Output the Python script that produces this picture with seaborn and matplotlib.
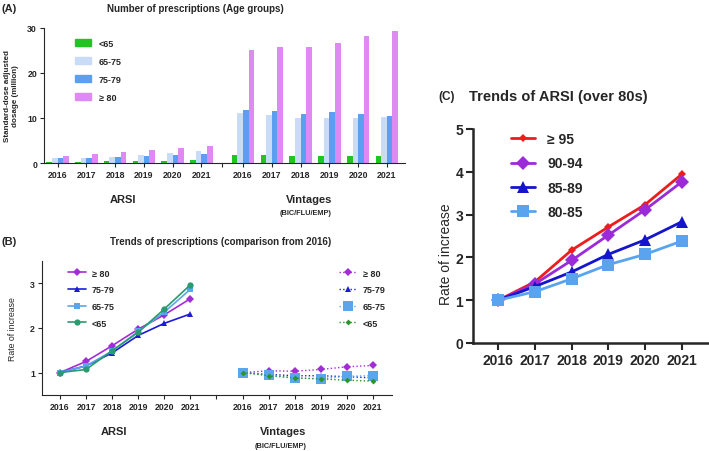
import numpy as np
import pandas as pd
import matplotlib
matplotlib.use('Agg')
import matplotlib.pyplot as plt
from matplotlib.patches import Patch
import seaborn as sns

# %% data

years = [2016, 2017, 2018, 2019, 2020, 2021]
year_labels = [str(y) for y in years]
age_groups = ['<65', '65-75', '75-79', '\u2265 80']

# (A) standard-dose adjusted dosage, million
arsi_lt65 = [0.30, 0.30, 0.37, 0.44, 0.52, 0.60]
arsi_65_75 = [1.04, 1.19, 1.40, 1.85, 2.20, 2.67]
arsi_75_79 = [1.04, 1.04, 1.26, 1.63, 1.85, 2.07]
arsi_ge80 = [1.56, 1.93, 2.37, 2.89, 3.26, 3.85]
vint_lt65 = [1.85, 1.70, 1.55, 1.55, 1.55, 1.50]
vint_65_75 = [11.1, 10.6, 10.1, 9.9, 10.1, 10.3]
vint_75_79 = [11.7, 11.5, 11.0, 11.3, 11.0, 10.4]
vint_ge80 = [25.2, 25.8, 25.8, 26.7, 28.2, 29.3]

# (B) rate of increase vs 2016
rate_arsi_ge80 = [1.0, 1.25, 1.60, 1.97, 2.29, 2.65]
rate_arsi_75_79 = [1.0, 1.15, 1.44, 1.83, 2.10, 2.31]
rate_arsi_65_75 = [1.0, 1.15, 1.48, 1.92, 2.35, 2.86]
rate_arsi_lt65 = [1.0, 1.07, 1.49, 1.90, 2.42, 2.96]
rate_vint_ge80 = [1.0, 1.04, 1.03, 1.07, 1.13, 1.16]
rate_vint_75_79 = [1.0, 0.96, 0.93, 0.93, 0.91, 0.88]
rate_vint_65_75 = [1.0, 0.95, 0.88, 0.86, 0.92, 0.93]
rate_vint_lt65 = [1.0, 0.93, 0.88, 0.86, 0.83, 0.81]

# (C) ARSI over 80s
over80_groups = ['\u2265 95', '90-94', '85-89', '80-85']
c_ge95 = [1.0, 1.43, 2.17, 2.71, 3.23, 3.94]
c_90_94 = [1.0, 1.38, 1.93, 2.52, 3.11, 3.76]
c_85_89 = [1.0, 1.32, 1.66, 2.07, 2.41, 2.83]
c_80_85 = [1.0, 1.20, 1.50, 1.83, 2.07, 2.38]

# %% style

sns.set_style('ticks')
plt.rcParams['font.family'] = ['Liberation Sans', 'DejaVu Sans']
plt.rcParams['axes.linewidth'] = 0.8

W, H = 709, 452
fig = plt.figure(figsize=(W / 100, H / 100), dpi=100)


def box(left, top, right, bottom):
    return [left / W, 1 - bottom / H, (right - left) / W, (bottom - top) / H]


def fx(x):
    return x / W


def fy(y):
    return 1 - y / H


def small_ticks(ax, size=6.3):
    ax.tick_params(axis='both', direction='out', length=3, width=0.8, pad=2, labelsize=size)
    for lab in ax.get_xticklabels() + ax.get_yticklabels():
        lab.set_fontweight('bold')


# %% (A) bars

axA = fig.add_axes(box(44, 29, 405, 164))
pos_arsi = np.arange(6)
pos_vint = np.arange(6) + 6.45
pos_a = np.r_[pos_arsi, pos_vint]
bar_colors = ['#22c422', '#c8dcf7', '#5b9ff2', '#df8af2']

df_a = pd.DataFrame({
    'pos': np.tile(pos_a, 4),
    'group': np.repeat(age_groups, 12),
    'value': np.concatenate([arsi_lt65 + vint_lt65, arsi_65_75 + vint_65_75,
                             arsi_75_79 + vint_75_79, arsi_ge80 + vint_ge80]),
})
sns.barplot(data=df_a, x='pos', y='value', hue='group', hue_order=age_groups,
            palette=bar_colors, native_scale=True, width=0.78, saturation=1,
            errorbar=None, linewidth=0, legend=False, ax=axA)
axA.set_xlim(-0.47, 12.08)
axA.set_ylim(0, 30)
axA.set_yticks([0, 10, 20, 30])
axA.set_xticks(list(pos_a) + [5.72])
axA.set_xticklabels(year_labels + year_labels + [''])
axA.set_xlabel('')
axA.set_ylabel('Standard-dose adjusted\ndosage (million)', fontsize=5.8,
               fontweight='bold', linespacing=1.35)
axA.yaxis.set_label_coords(-0.068, 0.5)
sns.despine(ax=axA)
small_ticks(axA)
axA.legend(handles=[Patch(color=c, label=g) for c, g in zip(bar_colors, age_groups)],
           loc='upper left', bbox_to_anchor=(fx(70), fy(35)), bbox_transform=fig.transFigure,
           frameon=False, borderpad=0, handlelength=1.8, handleheight=0.95,
           handletextpad=0.9, labelspacing=1.0, prop={'size': 6.5, 'weight': 'bold'})

fig.text(fx(2), fy(9), '(A)', fontsize=8, fontweight='bold', va='center')
fig.text(fx(195), fy(9), 'Number of prescriptions (Age groups)', fontsize=7,
         fontweight='bold', ha='center', va='center')
fig.text(fx(123), fy(200), 'ARSI', fontsize=8, fontweight='bold', ha='center', va='center')
fig.text(fx(309), fy(200), 'Vintages', fontsize=8, fontweight='bold', ha='center', va='center')
fig.text(fx(306), fy(214), '(BIC/FLU/EMP)', fontsize=5.3, fontweight='bold', ha='center', va='center')

# %% (B) trends

axB = fig.add_axes(box(42, 261.6, 392, 396))
pos_b_arsi = np.arange(6)
pos_b_vint = np.arange(6) + 7

arsi_series = [
    (rate_arsi_ge80, '#a32cd6', 'D', 4.0),
    (rate_arsi_75_79, '#1c1cd6', '^', 4.8),
    (rate_arsi_65_75, '#5aa6ee', 's', 4.5),
    (rate_arsi_lt65, '#2a9b6f', 'o', 4.5),
]
vint_series = [
    (rate_vint_ge80, '#a32cd6', 'D', 4.5),
    (rate_vint_75_79, '#1c1cd6', '^', 5.0),
    (rate_vint_65_75, '#5aa6ee', 's', 6.5),
    (rate_vint_lt65, '#2a962a', 'D', 3.0),
]
labels_b = ['\u2265 80', '75-79', '65-75', '<65']

for (vals, col, mk, ms), lab in zip(arsi_series, labels_b):
    sns.lineplot(x=pos_b_arsi, y=vals, color=col, marker=mk, markersize=ms,
                 mec=col, mew=0, linewidth=1.2, ax=axB, label=lab)
for (vals, col, mk, ms), lab in zip(vint_series, labels_b):
    sns.lineplot(x=pos_b_vint, y=vals, color=col, marker=mk, markersize=ms,
                 mec=col, mew=0, linewidth=1.0, linestyle=':', ax=axB, label=lab)

axB.set_xlim(-0.69, 12.73)
axB.set_ylim(0.5, 3.5)
axB.set_yticks([1, 2, 3])
axB.set_xticks(list(pos_b_arsi) + [6] + list(pos_b_vint))
axB.set_xticklabels(year_labels + [''] + year_labels)
axB.set_ylabel('Rate of increase', fontsize=6.3)
axB.yaxis.set_label_coords(-0.07, 0.5)
sns.despine(ax=axB)
small_ticks(axB)

handles, labels = axB.get_legend_handles_labels()
leg_kw = dict(loc='upper left', bbox_transform=fig.transFigure, frameon=False,
              borderpad=0, handlelength=2.0, handletextpad=0.7, labelspacing=0.85,
              prop={'size': 6.5, 'weight': 'bold'})
leg1 = axB.legend(handles[:4], labels[:4], bbox_to_anchor=(fx(63), fy(265)), **leg_kw)
axB.add_artist(leg1)
axB.legend(handles[4:], labels[4:], bbox_to_anchor=(fx(334), fy(265)), **leg_kw)

fig.text(fx(2), fy(242), '(B)', fontsize=8, fontweight='bold', va='center')
fig.text(fx(221), fy(242), 'Trends of prescriptions (comparison from 2016)', fontsize=7,
         fontweight='bold', ha='center', va='center')
fig.text(fx(114), fy(432), 'ARSI', fontsize=8, fontweight='bold', ha='center', va='center')
fig.text(fx(283), fy(432), 'Vintages', fontsize=8, fontweight='bold', ha='center', va='center')
fig.text(fx(281), fy(447), '(BIC/FLU/EMP)', fontsize=5.3, fontweight='bold', ha='center', va='center')

# %% (C) over 80s

axC = fig.add_axes(box(473, 130, 708, 344))
c_series = [
    (c_ge95, '#ee1c1c', 'D', 4.5),
    (c_90_94, '#9b2bd8', 'D', 7.0),
    (c_85_89, '#1515cc', '^', 8.5),
    (c_80_85, '#5aa3ee', 's', 8.5),
]
for (vals, col, mk, ms), lab in zip(c_series, over80_groups):
    sns.lineplot(x=years, y=vals, color=col, marker=mk, markersize=ms,
                 mec=col, mew=0, linewidth=2.0, ax=axC, label=lab)

axC.set_xlim(2015.31, 2021.72)
axC.set_ylim(0, 5)
axC.set_xticks(years)
axC.set_yticks([0, 1, 2, 3, 4, 5])
axC.set_ylabel('Rate of increase', fontsize=10)
axC.yaxis.set_label_coords(-0.085, 0.42)
for s in ['left', 'bottom']:
    axC.spines[s].set_linewidth(1.8)
sns.despine(ax=axC)
axC.tick_params(axis='both', direction='out', length=5, width=1.5, labelsize=10, pad=2)
for lab in axC.get_xticklabels() + axC.get_yticklabels():
    lab.set_fontweight('bold')
axC.legend(loc='upper left', bbox_to_anchor=(fx(504), fy(126)), bbox_transform=fig.transFigure,
           frameon=False, borderpad=0, handlelength=1.7, handletextpad=0.9,
           labelspacing=0.75, prop={'size': 10, 'weight': 'bold'})

fig.text(fx(447), fy(97), '(C)', fontsize=8.5, fontweight='bold', ha='center', va='center')
fig.text(fx(558), fy(97), 'Trends of ARSI (over 80s)', fontsize=10.5,
         fontweight='bold', ha='center', va='center')

fig.savefig('out.png', dpi=100)
